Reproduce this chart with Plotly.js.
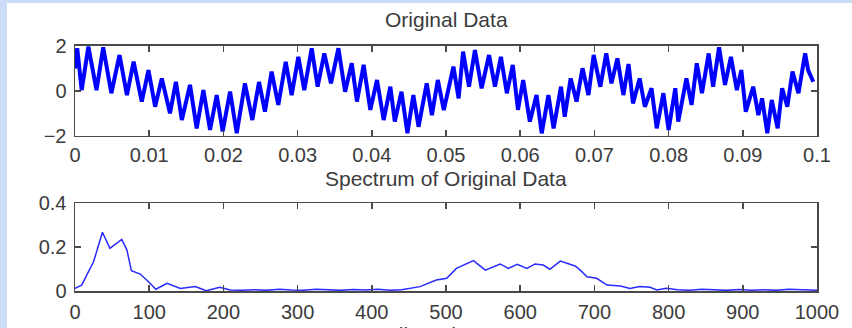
<!DOCTYPE html>
<html>
<head>
<meta charset="utf-8">
<script src="https://cdn.plot.ly/plotly-3.0.1.min.js"></script>
<style>
  html, body { margin: 0; padding: 0; width: 852px; height: 328px; overflow: hidden; background: #cddcf6; }
  #chart { position: absolute; left: 7px; top: 3px; width: 845px; height: 325px; background: #ffffff; }
</style>
</head>
<body>
<div id="chart"></div>
<script>
// ---- Original data (time in s, amplitude) ----
const timeOrig = [
  0, 0.0003, 0.0009, 0.0018, 0.0029, 0.0038, 0.0049, 0.0060, 0.0070, 0.0079,
  0.0090, 0.0099, 0.0108, 0.0117, 0.0128, 0.0136, 0.0144, 0.0155, 0.0164, 0.0173,
  0.0182, 0.0191, 0.0199, 0.0209, 0.0218, 0.0229, 0.0239, 0.0248,
  0.0256, 0.0265, 0.0274, 0.0284, 0.0292, 0.0301, 0.0309, 0.0319, 0.0327, 0.0336,
  0.0345, 0.0355, 0.0364, 0.0373, 0.0380, 0.0389, 0.0398, 0.0407, 0.0416, 0.0425,
  0.0431, 0.0440, 0.0448, 0.0456, 0.0463, 0.0474, 0.0481, 0.0489, 0.0497,
  0.0510, 0.0517, 0.0523, 0.0531, 0.0539, 0.0548, 0.0558, 0.0566, 0.0574, 0.0582,
  0.0590, 0.0597, 0.0604, 0.0613, 0.0622, 0.0629, 0.0638, 0.0645, 0.0655, 0.0660,
  0.0668, 0.0676, 0.0684, 0.0692, 0.0699, 0.0708, 0.0716, 0.0723, 0.0731, 0.0739,
  0.0746, 0.0752, 0.0761, 0.0768, 0.0777, 0.0784, 0.0793, 0.0800, 0.0809, 0.0813,
  0.0824, 0.0831, 0.0838, 0.0845, 0.0854, 0.0860, 0.0868, 0.0876, 0.0884, 0.0892,
  0.0898, 0.0904, 0.0914, 0.0921, 0.0926, 0.0933, 0.0939, 0.0947, 0.0953, 0.0960,
  0.0967, 0.0975, 0.0984, 0.0988, 0.0995
];
const ampOrig = [
  1.00, 1.90, 0.04, 1.97, 0.04, 1.94, -0.10, 1.60, -0.18, 1.30,
  -0.47, 0.93, -0.70, 0.56, -0.99, 0.41, -1.29, 0.27, -1.66, 0.04,
  -1.73, -0.18, -1.80, -0.03, -1.88, 0.34, -1.29, 0.40,
  -0.92, 0.86, -0.62, 1.30, -0.18, 1.52, 0.04, 1.90, 0.19, 1.67,
  0.34, 1.90, -0.03, 1.23, -0.47, 1.16, -0.84, 0.49, -1.29, 0.19,
  -1.36, -0.03, -1.88, -0.18, -1.59, 0.34, -1.07, 0.49, -0.85,
  1.08, -0.33, 1.75, 0.19, 1.82, 0.12, 1.60, 0.19, 1.52, -0.10,
  1.16, -0.84, 0.49, -1.36, -0.18, -1.88, -0.18, -1.66, 0.19, -1.14,
  0.56, -0.47, 1.01, -0.18, 1.60, 0.19, 1.67, 0.34, 1.45, -0.18,
  1.20, -0.55, 0.56, -0.70, 0.12, -1.66, -0.10, -1.73, 0.12, -1.36,
  0.56, -0.62, 1.23, -0.10, 1.67, 0.19, 1.94, 0.27, 1.52, 0.04,
  0.93, -0.92, 0.19, -1.07, -0.33, -1.88, -0.40, -1.66, 0.12, -0.70,
  0.86, -0.10, 1.67, 0.93, 0.41
];

// ---- Spectrum of original data (frequency in Hz, magnitude) ----
const freqSpec = [
  0, 9, 16, 25, 37, 47, 63, 70, 76, 88,
  99, 109, 124, 142, 162, 177, 195, 209, 225, 242,
  258, 275, 292, 308, 325, 342, 358, 375, 392, 408,
  425, 440, 465, 487, 501, 514, 537, 553, 573, 584,
  596, 609, 620, 631, 640, 654, 663, 674, 681, 690,
  703, 717, 735, 748, 761, 775, 784, 797, 812, 828,
  845, 862, 878, 895, 912, 928, 945, 962, 978, 1000
];
const magSpec = [
  0.012, 0.027, 0.073, 0.133, 0.267, 0.194, 0.235, 0.186, 0.092, 0.077,
  0.042, 0.008, 0.035, 0.012, 0.020, 0.001, 0.017, 0.005, 0.004, 0.006,
  0.003, 0.008, 0.005, 0.004, 0.008, 0.006, 0.003, 0.007, 0.005, 0.008,
  0.004, 0.006, 0.020, 0.050, 0.058, 0.103, 0.138, 0.095, 0.123, 0.103,
  0.121, 0.103, 0.123, 0.118, 0.099, 0.136, 0.126, 0.114, 0.095, 0.065,
  0.058, 0.027, 0.023, 0.012, 0.020, 0.017, 0.005, 0.012, 0.006, 0.004,
  0.008, 0.005, 0.003, 0.007, 0.004, 0.006, 0.003, 0.008, 0.005, 0.004
];

// ---- tick labels / titles ----
const titleTop = 'Original Data';
const titleMid = 'Spectrum of Original Data';
const titleBottom = 'Filtered Data';

const FONT = 'Liberation Sans, Arial, Helvetica, sans-serif';
const TXT = '#3c3c3c';
const AX = '#4a4a4a';

function axisStyle(extra) {
  return Object.assign({
    showgrid: false, zeroline: false,
    showline: true, linecolor: AX, linewidth: 1.5, mirror: 'ticks',
    ticks: 'inside', ticklen: 6, tickwidth: 1.5, tickcolor: AX,
    tickfont: {family: FONT, size: 20, color: TXT},
    fixedrange: true
  }, extra);
}

const traces = [
  {x: timeOrig, y: ampOrig, xaxis: 'x', yaxis: 'y', type: 'scatter', mode: 'lines',
   line: {color: '#0000ff', width: 4}, hoverinfo: 'skip'},
  {x: freqSpec, y: magSpec, xaxis: 'x2', yaxis: 'y2', type: 'scatter', mode: 'lines',
   line: {color: '#2a2aff', width: 1.5}, hoverinfo: 'skip'}
];

const layout = {
  width: 845, height: 325,
  margin: {l: 68, r: 35, t: 0, b: 0},
  paper_bgcolor: '#ffffff', plot_bgcolor: '#ffffff',
  showlegend: false,
  xaxis: axisStyle({domain: [0, 1], range: [0, 0.1], dtick: 0.01, tick0: 0, anchor: 'y', ticklabelstandoff: 1}),
  yaxis: axisStyle({domain: [0.5908, 0.8677], range: [-2, 2], dtick: 2, tick0: 0, anchor: 'x', ticklabelstandoff: 3}),
  xaxis2: axisStyle({domain: [0, 1], range: [0, 1000], dtick: 100, tick0: 0, anchor: 'y2', ticklabelstandoff: 2}),
  yaxis2: axisStyle({domain: [0.1138, 0.3846], range: [0, 0.4], dtick: 0.2, tick0: 0, anchor: 'x2', ticklabelstandoff: 3}),
  annotations: [
    {text: titleTop, xref: 'paper', yref: 'paper', x: 0.5, y: 0.9477, xanchor: 'center', yanchor: 'middle',
     showarrow: false, font: {family: FONT, size: 21, color: TXT}},
    {text: titleMid, xref: 'paper', yref: 'paper', x: 0.5, y: 0.4585, xanchor: 'center', yanchor: 'middle',
     showarrow: false, font: {family: FONT, size: 21, color: TXT}},
    {text: titleBottom, xref: 'paper', yref: 'paper', x: 0.5, y: 0.0215, xanchor: 'center', yanchor: 'top',
     showarrow: false, font: {family: FONT, size: 21, color: TXT}}
  ]
};

Plotly.newPlot('chart', traces, layout, {displayModeBar: false, staticPlot: true});
</script>
</body>
</html>
